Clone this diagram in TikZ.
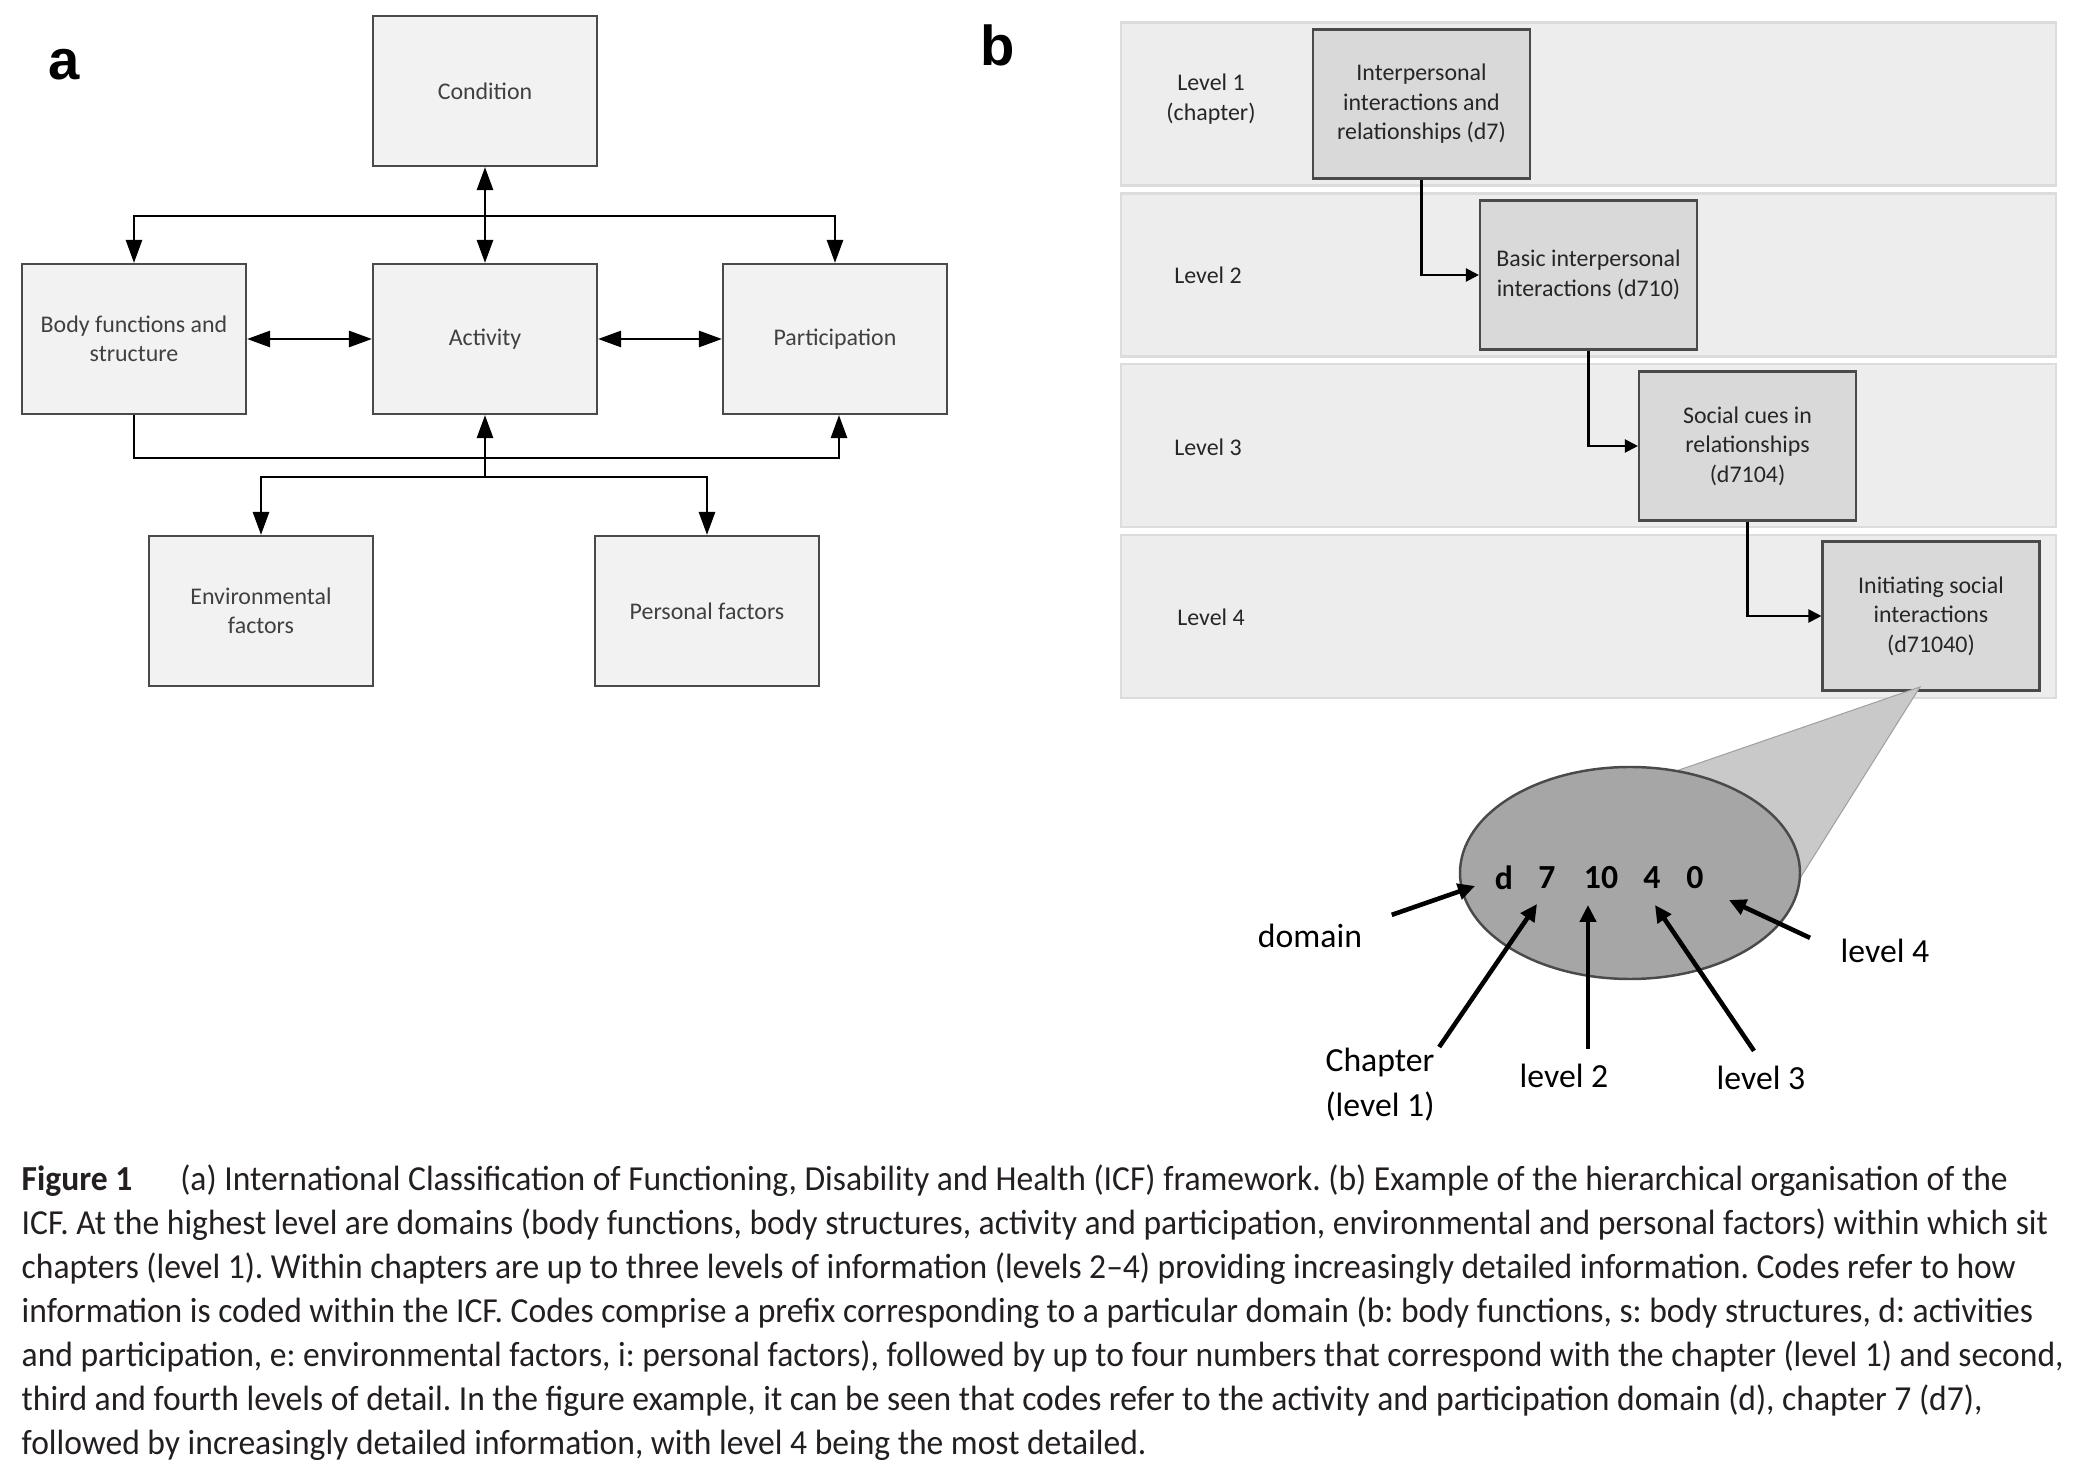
\documentclass[tikz,border=0pt]{standalone}
\usepackage{fontspec}
\setmainfont{Carlito}
\newfontfamily\panelfont{Liberation Sans}
\newfontfamily\capfont[FakeStretch=0.955]{Carlito}
\usepackage{tikz}
\usetikzlibrary{arrows.meta, calc, positioning}
\usepackage{xcolor}

\definecolor{boxline}{HTML}{4A4A4A}
\definecolor{boxfill}{HTML}{F2F2F2}
\definecolor{boxtext}{HTML}{404040}
\definecolor{bandfill}{HTML}{EDEDED}
\definecolor{bandline}{HTML}{DCDCDC}
\definecolor{lvlfill}{HTML}{D9D9D9}
\definecolor{lvltext}{HTML}{262626}
\definecolor{lensfill}{HTML}{A6A6A6}
\definecolor{conefill}{HTML}{C9C9C9}
\definecolor{captext}{HTML}{231F20}

\begin{document}
\begin{tikzpicture}[x=1cm, y=1cm,
    icfbox/.style={draw=boxline, fill=boxfill, line width=0.6pt, minimum width=2.24cm,
        minimum height=1.50cm, align=center, text=boxtext, font=\fontsize{6.8}{8.4}\selectfont},
    lvlbox/.style={icfbox, fill=lvlfill, minimum width=2.17cm, minimum height=1.49cm, text=lvltext},
    band/.style={draw=bandline, fill=bandfill, line width=0.6pt, minimum width=9.35cm, minimum height=1.63cm},
    lvllabel/.style={align=center, text=lvltext, font=\fontsize{6.8}{8.4}\selectfont},
    flow/.style={line width=0.75pt, -{Triangle[length=0.23cm, width=0.16cm]}},
    bothflow/.style={line width=0.75pt, {Triangle[length=0.23cm, width=0.16cm]}-{Triangle[length=0.23cm, width=0.16cm]}},
    stepflow/.style={line width=0.6pt, -{Triangle[length=0.13cm, width=0.13cm]}},
    codearrow/.style={line width=1.3pt, -{Triangle[length=0.17cm, width=0.16cm]}},
    codelabel/.style={font=\fontsize{9.6}{13}\selectfont, inner sep=0pt, align=center},
    codechar/.style={font=\bfseries\fontsize{9.6}{11}\selectfont, inner sep=0pt},
    panel/.style={font=\panelfont\bfseries\fontsize{16}{16}\selectfont, inner sep=0pt, anchor=base}
]
    \useasboundingbox (0,0) rectangle (20.74,-14.64);

    % 1. Panel a: the framework
    \node[panel] (panela) at (0.64,-0.80) {a};
    \node[icfbox] (cond) at (4.85,-0.91) {Condition};
    \node[icfbox] (body) at (1.34,-3.39) {Body functions and\\structure};
    \node[icfbox] (act)  at (4.85,-3.39) {Activity};
    \node[icfbox] (part) at (8.35,-3.39) {Participation};
    \node[icfbox] (env)  at (2.61,-6.11) {Environmental\\factors};
    \node[icfbox] (pers) at (7.07,-6.11) {Personal factors};

    \coordinate (topbar) at (4.85,-2.16);
    \coordinate (lowbar) at (4.85,-4.58);
    \coordinate (envbar) at (4.85,-4.77);

    \draw[bothflow] (cond) -- (act);
    \draw[flow] (topbar) -| (body.north);
    \draw[flow] (topbar) -| (part.north);
    \draw[bothflow] (body) -- (act);
    \draw[bothflow] (act) -- (part);
    \draw[flow] (body.south) |- (lowbar) -| ([xshift=0.04cm]part.south);
    \draw[flow] (envbar) -- (act.south);
    \draw[flow] (envbar) -| (env.north);
    \draw[flow] (envbar) -| (pers.north);

    % 2. Panel b: the four levels
    \node[panel] (panelb) at (9.98,-0.66) {b};
    \node[band] (band1) at (15.885,-1.04) {};
    \node[band] (band2) at (15.885,-2.75) {};
    \node[band] (band3) at (15.885,-4.455) {};
    \node[band] (band4) at (15.885,-6.165) {};

    \node[lvllabel] (lab1) at (12.11,-0.99) {Level 1\\(chapter)};
    \node[lvllabel] (lab2) at (12.08,-2.75) {Level 2};
    \node[lvllabel] (lab3) at (12.08,-4.47) {Level 3};
    \node[lvllabel] (lab4) at (12.11,-6.17) {Level 4};

    \node[lvlbox] (lv1) at (14.215,-1.04) {Interpersonal\\interactions and\\relationships (d7)};
    \node[lvlbox] (lv2) at (15.885,-2.75) {Basic interpersonal\\interactions (d710)};
    \node[lvlbox] (lv3) at (17.475,-4.46) {Social cues in\\relationships\\(d7104)};
    \node[lvlbox] (lv4) at (19.31,-6.16) {Initiating social\\interactions\\(d71040)};

    \draw[stepflow] (lv1.south) |- (lv2.west);
    \draw[stepflow] (lv2.south) |- (lv3.west);
    \draw[stepflow] (lv3.south) |- (lv4.west);

    % 3. Zoom on the code of level 4
    \coordinate (apex) at (19.20,-6.87);
    \coordinate (lens) at (16.30,-8.73);
    \fill[conefill, draw=conefill!80!black, line width=0.3pt]
        (apex) -- (16.79,-7.70) -- (lens) -- (17.97,-8.83) -- cycle;
    \draw[fill=lensfill, draw=boxline, line width=0.7pt] (lens) ellipse (1.70 and 1.06);

    \foreach \ch/\cx [count=\i] in {d/15.04, 7/15.47, 10/16.01, 4/16.52, 0/16.95}
        \node[codechar] (code\i) at (\cx,-8.78) {\ch};

    \node[codelabel, anchor=base] (domain) at (13.10,-9.48) {domain};
    \node[codelabel, anchor=north] (chapter) at (13.80,-10.47) {Chapter\\(level 1)};
    \node[codelabel, anchor=base] (lvtwo) at (15.64,-10.88) {level 2};
    \node[codelabel, anchor=base] (lvthree) at (17.61,-10.90) {level 3};
    \node[codelabel, anchor=base] (lvfour) at (18.85,-9.63) {level 4};

    \coordinate (tipd) at (14.75,-8.86);
    \coordinate (tip1) at (15.37,-9.04);
    \coordinate (tip2) at (15.88,-9.05);
    \coordinate (tip3) at (16.55,-9.05);
    \coordinate (tip4) at (17.29,-9.00);

    \draw[codearrow] ($(domain.north east)+(0.29,0.09)$) -- (tipd);
    \draw[codearrow] ($(chapter.north east)+(0.04,0.0)$) -- (tip1);
    \draw[codearrow] (lvtwo.north -| tip2) ++(0,0.15) -- (tip2);
    \draw[codearrow] ($(lvthree.north)+(-0.07,0.15)$) -- (tip3);
    \draw[codearrow] ($(lvfour.north west)+(-0.30,0.01)$) -- (tip4);

    % 4. Caption
    \node[anchor=north west, align=left, inner sep=0pt, text=captext,
          font=\capfont\frenchspacing\fontsize{10}{12.5}\selectfont] (caption) at (0.21,-11.64)
        {\textbf{Figure 1}\hspace{0.48cm}(a) International Classification of Functioning, Disability and Health (ICF) framework. (b) Example of the hierarchical organisation of the\\
         ICF. At the highest level are domains (body functions, body structures, activity and participation, environmental and personal factors) within which sit\\
         chapters (level 1). Within chapters are up to three levels of information (levels 2–4) providing increasingly detailed information. Codes refer to how\\
         information is coded within the ICF. Codes comprise a prefix corresponding to a particular domain (b: body functions, s: body structures, d: activities\\
         and participation, e: environmental factors, i: personal factors), followed by up to four numbers that correspond with the chapter (level 1) and second,\\
         third and fourth levels of detail. In the figure example, it can be seen that codes refer to the activity and participation domain (d), chapter 7 (d7),\\
         followed by increasingly detailed information, with level 4 being the most detailed.};

\end{tikzpicture}
\end{document}
